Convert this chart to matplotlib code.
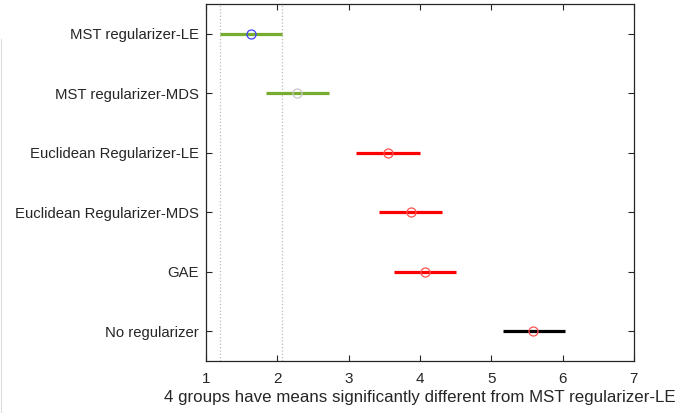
import matplotlib
matplotlib.use("Agg")
import matplotlib.pyplot as plt
from matplotlib.lines import Line2D

# group names, top to bottom
groups = [
  "MST regularizer-LE",
  "MST regularizer-MDS",
  "Euclidean Regularizer-LE",
  "Euclidean Regularizer-MDS",
  "GAE",
  "No regularizer",
]
means = [1.63, 2.28, 3.55, 3.87, 4.07, 5.59]
lower = [1.19, 1.84, 3.11, 3.43, 3.63, 5.16]
upper = [2.07, 2.72, 4.00, 4.31, 4.51, 6.03]

line_colors = ["#77AC30", "#77AC30", "#FF0000", "#FF0000", "#FF0000", "#000000"]
marker_colors = ["#4040FF", "#C8C8C8", "#FF5050", "#FF5050", "#FF5050", "#FF5050"]
selected = 0
xlabel = "4 groups have means significantly different from MST regularizer-LE"

plt.rcParams["font.family"] = ["Liberation Sans", "DejaVu Sans"]

fig = plt.figure(figsize=(6.97, 4.13), dpi=100)
ax = fig.add_axes([0.2955, 0.126, 0.614, 0.864])

ypos = list(range(1, len(groups) + 1))

# reference interval of the selected group
for xv in (lower[selected], upper[selected]):
  ax.axvline(xv, color="#BBBBBB", linestyle=":", linewidth=0.9, zorder=1)

for y, m, lo, hi, lc, mc in zip(ypos, means, lower, upper, line_colors, marker_colors):
  ax.plot([lo, hi], [y, y], color=lc, linewidth=2.3, solid_capstyle="butt", zorder=2)
  ax.plot(m, y, marker="o", markersize=6.5, markerfacecolor="none",
          markeredgecolor=mc, markeredgewidth=0.9, zorder=3)

ax.set_xlim(1, 7)
ax.set_ylim(6.5, 0.5)
ax.set_xticks(range(1, 8))
ax.set_yticks(ypos)
ax.set_yticklabels(groups)
ax.tick_params(direction="in", length=4, width=0.8, top=True, right=True,
               labelsize=10.7, colors="#262626")
ax.tick_params(axis="y", pad=5)
ax.tick_params(axis="x", pad=8, labelsize=11)
for s in ax.spines.values():
  s.set_color("#262626")
  s.set_linewidth(0.9)
ax.set_xlabel(xlabel, fontsize=12.2, color="#262626", labelpad=3)

# faint border left over from the window
fig.add_artist(Line2D([0.001, 0.001], [0.0, 0.905], transform=fig.transFigure,
                      color="#DDDDDD", linewidth=0.8))

fig.savefig("out.png", dpi=100)
